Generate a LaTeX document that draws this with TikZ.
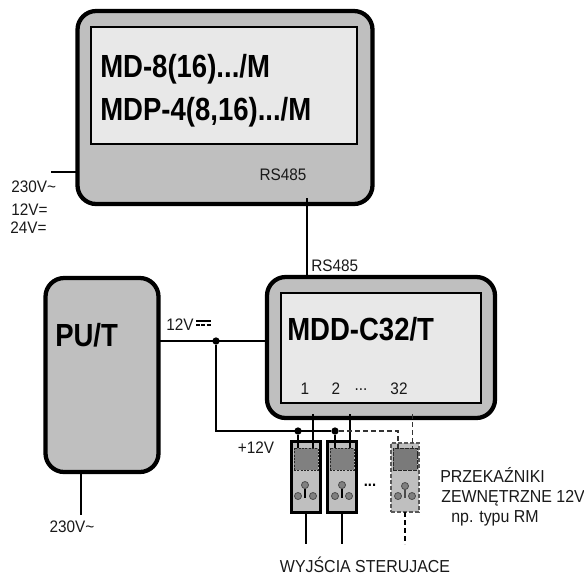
\documentclass[tikz,border=0pt]{standalone}
\usepackage{fontspec}
\setmainfont[FakeStretch=0.92]{Liberation Sans}
\newfontfamily\bigfam[FakeStretch=0.86]{Liberation Sans}
\definecolor{boxgray}{gray}{0.75}
\definecolor{innergray}{gray}{0.91}
\definecolor{termgray}{gray}{0.5}
\newcommand{\PX}{*0.75pt}
\tikzset{x=0.75pt,y=-0.75pt,
 outerbox/.style={draw=black,fill=boxgray,line width=3.2pt,rounded corners=14pt,inner sep=0pt,outer sep=0pt},
 innerbox/.style={draw=black,fill=innergray,line width=1.5pt,inner sep=0pt,outer sep=0pt},
 wire/.style={draw=black,line width=1.3pt},
 dwire/.style={draw=black!80,line width=.8pt,dash pattern=on 4pt off 2pt},
 dot/.style={circle,fill=black,inner sep=0pt,minimum size=5.5pt},
 lab/.style={font=\fontsize{12.5pt}{14pt}\selectfont,inner sep=0pt,text=black!90},
 biglab/.style={font=\fontsize{13pt}{14pt}\selectfont,inner sep=0pt,text=black!90},
 big/.style={font=\bigfam\bfseries\fontsize{24pt}{26pt}\selectfont,inner sep=0pt,anchor=west},
 relay/.style={draw=black,fill=boxgray,line width=1.6pt,inner sep=0pt,outer sep=0pt,minimum width=29*0.75pt,minimum height=71*0.75pt},
 grelay/.style={draw=black!65,fill=boxgray,line width=1pt,dash pattern=on 3pt off 1.5pt,inner sep=0pt,outer sep=0pt,minimum width=28*0.75pt,minimum height=69*0.75pt},
 coil/.style={draw=black!85,fill=termgray,line width=.7pt,dash pattern=on 1.5pt off 1pt,inner sep=0pt,outer sep=0pt,minimum width=24*0.75pt,minimum height=22*0.75pt},
 term/.style={circle,draw=black!70,fill=termgray,line width=.6pt,inner sep=0pt,minimum size=5.3pt},
}
\begin{document}
\begin{tikzpicture}
\useasboundingbox (0,0) rectangle (584,576);
% top module
\node[outerbox,minimum width=295\PX,minimum height=193\PX] (top) at (225,107.5) {};
\node[innerbox,minimum width=266\PX,minimum height=117\PX] (topin) at (224,85.5) {};
\node[big] (t1) at (100,69) {MD-8(16).../M};
\node[big] (t2) at (100,112) {MDP-4(8,16).../M};
\node[lab] (rs1) at (283,175) {RS485};
% MDD
\node[outerbox,minimum width=228\PX,minimum height=141\PX] (dd) at (381,347.5) {};
\node[innerbox,minimum width=200\PX,minimum height=110\PX] (ddin) at (381,348) {};
\node[big] (t3) at (287,329) {MDD-C32/T};
% PU
\node[outerbox,minimum width=113\PX,minimum height=194\PX] (pu) at (102,375) {};
\node[big] (t4) at (55,335) {PU/T};
% supply of top module
\coordinate (a1) at (51,172);
\draw[wire] (a1) -- (a1 -| top.west);
\node[lab,anchor=west] (v1) at (11,187) {230V\textasciitilde};
\node[lab,anchor=west] (v2) at (11,210) {12V=};
\node[lab,anchor=west] (v3) at (10,228) {24V=};
% RS485
\coordinate (b1) at (307,198);
\draw[wire] (b1) -- (b1 |- dd.north);
\node[lab,anchor=west] (rs2) at (311,266) {RS485};
% 12V
\node[lab,anchor=west] (v4) at (166,325) {12V};
\coordinate (s1) at (196,321); \coordinate (s2) at (211,321);
\coordinate (s3) at (196,325); \coordinate (s4) at (211,325);
\draw[line width=1pt] (s1) -- (s2);
\draw[line width=1pt,dash pattern=on 3pt off 1pt] (s3) -- (s4);
\coordinate (c1) at (159,341);
\draw[wire] (c1) -- (c1 -| dd.west);
\node[dot] (d0) at (216,341) {};
\node[dot] (d1) at (298,431) {};
\node[dot] (d2) at (335,431) {};
\coordinate (c2) at (216,431);
\draw[wire] (d0) -- (c2) -- (d2);
\coordinate (e0) at (81,515);
\draw[wire] (e0 |- pu.south) -- (e0);
\node[lab] (v5) at (72,527) {230V\textasciitilde};
\node[lab] (v6) at (256,448) {+12V};
% numbers
\node[lab] (n1) at (305,389) {1};
\node[lab] (n2) at (336,389) {2};
\node[lab] (n3) at (361,390) {...};
\node[lab] (n4) at (399,389) {32};
% relays
\node[relay] (r1) at (306,477) {};
\node[relay] (r2) at (342,477) {};
\node[grelay] (r3) at (405,477.5) {};
\node[coil] (k1) at (306,459) {};
\node[coil] (k2) at (342,459) {};
\node[coil,dash pattern=on 3pt off .7pt,fill=black!52] (k3) at (405,459) {};
% connections to relays
\coordinate (f1) at (313,414); \coordinate (f2) at (350,414); \coordinate (f3) at (412.5,414);
\coordinate (g3) at (398,431);
\draw[wire] (d1) -- (d1 |- k1.north);
\draw[wire] (f1) -- (f1 |- k1.north);
\draw[wire] (d2) -- (d2 |- k2.north);
\draw[wire] (f2) -- (f2 |- k2.north);
\draw[dwire] (d2) -- (g3) -- (g3 |- k3.north);
\draw[dwire] (f3) -- (f3 |- k3.north);
% terminals
\foreach \n/\x/\y in {a/305/485,b/298/496,c/313/496,d/342/485,e/335/496,f/349/496,g/405/486,h/398/496,i/412/496}
  \node[term] (t\n) at (\x,\y) {};
\draw[line width=.8pt] (ta) -- (ta |- 0,498);
\draw[line width=.8pt] (td) -- (td |- 0,498);
\draw[line width=.8pt,black!70] (tg) -- (tg |- 0,498);
% outputs
\coordinate (o1) at (306,544); \coordinate (o2) at (342,544); \coordinate (o3) at (405,544);
\draw[wire] (r1.south) -- (o1);
\draw[wire] (r2.south) -- (o2);
\draw[dwire,draw=black] (r3.south) -- (o3);
\node[font=\bfseries\fontsize{12pt}{13pt}\selectfont,inner sep=0pt] (dots) at (370,485) {...};
\node[biglab,anchor=west] (p1) at (440,475) {PRZEKAŹNIKI};
\node[biglab,anchor=west] (p2) at (441,498) {ZEWNĘTRZNE 12V};
\node[biglab,anchor=west] (p3) at (451,518) {np. typu RM};
\node[biglab] (w1) at (365,565) {WYJŚCIA STERUJACE};
\end{tikzpicture}
\end{document}
